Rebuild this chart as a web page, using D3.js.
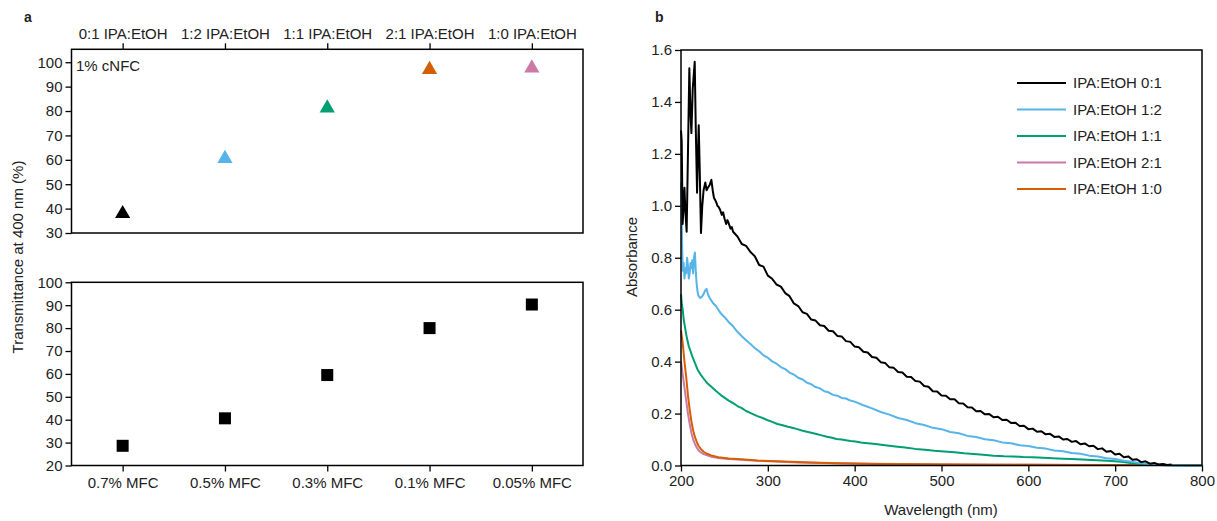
<!DOCTYPE html>
<html><head><meta charset="utf-8">
<script src="https://cdn.jsdelivr.net/npm/d3@7"></script>
<style>body{margin:0;background:#fff} text{font-family:"Liberation Sans",Arial,sans-serif;fill:#222}</style>
</head><body><svg id="c" width="1217" height="521"></svg>
<script>
// ---------- data ----------
const solventCats = ["0:1 IPA:EtOH","1:2 IPA:EtOH","1:1 IPA:EtOH","2:1 IPA:EtOH","1:0 IPA:EtOH"];
const solventT = [37.9, 60.5, 81.2, 97.0, 97.6];
const solventColors = ["#000000","#56B4E9","#009E73","#D55E00","#CC79A7"];
const mfcCats = ["0.7% MFC","0.5% MFC","0.3% MFC","0.1% MFC","0.05% MFC"];
const mfcT = [28.6, 40.6, 59.5, 80.0, 90.3];
const topTicks = [30,40,50,60,70,80,90,100];
const botTicks = [20,30,40,50,60,70,80,90,100];
const wlTicks = [200,300,400,500,600,700,800];
const absTicks = [0,0.2,0.4,0.6,0.8,1.0,1.2,1.4,1.6];
const seriesNames = ["IPA:EtOH 0:1","IPA:EtOH 1:2","IPA:EtOH 1:1","IPA:EtOH 2:1","IPA:EtOH 1:0"];
const seriesColors = ["#000000","#56B4E9","#009E73","#CC79A7","#D55E00"];

const spec01 = [[200,1.29],[200.8,1.25],[201.9,0.93],[203,1.0],[204,1.07],[205,0.98],[206.5,0.90],[208,1.2],[209.6,1.53],[211,1.35],[212,1.28],[213.5,1.45],[215.8,1.555],[217,1.3],[218.5,1.05],[219.5,1.2],[220.4,1.31],[221.5,1.15],[223,0.895],[224.5,1.0],[226,1.06],[228,1.09],[229.5,1.06],[231,1.07],[233,1.08],[235,1.1],[236.5,1.06],[238,1.03],[239,1.025],[241,1.01],[242,1.0],[243.5,0.995],[245,0.985],[247,0.965],[248.5,0.975],[250,0.952],[252,0.93],[253.5,0.945],[255,0.932],[257,0.912],[258.5,0.918],[260,0.90],
[265,0.882],[270,0.853],[275,0.846],[280,0.822],[285,0.806],[290,0.772],[295,0.766],[300,0.731],[305,0.719],[310,0.697],[315,0.689],[320,0.664],[325,0.652],[330,0.624],[335,0.614],[340,0.590],[345,0.584],[350,0.562],[355,0.558],[360,0.540],[365,0.537],[370,0.519],[375,0.517],[380,0.499],[385,0.497],[390,0.479],[395,0.476],[400,0.458],[405,0.455],[410,0.438],[415,0.435],[420,0.418],[425,0.415],[430,0.398],[435,0.395],[440,0.378],[445,0.376],[450,0.360],[455,0.358],[460,0.342],[465,0.341],[470,0.325],[475,0.323],[480,0.306],[485,0.303],[490,0.286],[495,0.285],[500,0.270],[505,0.269],[510,0.255],[515,0.255],[520,0.240],[525,0.239],[530,0.224],[535,0.223],[540,0.209],[545,0.210],[550,0.197],[555,0.198],[560,0.186],[565,0.188],[570,0.175],[575,0.176],[580,0.164],[585,0.165],[590,0.152],[595,0.153],[600,0.140],[605,0.142],[610,0.130],[615,0.132],[620,0.120],[625,0.122],[630,0.110],[635,0.112],[640,0.100],[645,0.102],[650,0.091],[655,0.094],[660,0.082],[665,0.085],[670,0.074],[675,0.076],[680,0.063],[685,0.066],[690,0.053],[695,0.056],[700,0.042],[705,0.045],[710,0.032],[715,0.035],[720,0.022],[725,0.024],[730,0.013],[735,0.016],[740,0.007],[745,0.010],[750,0.004],[755,0.006],[760,0.002],[765,0.004]];

const spec12 = [[200,1.09],[200.6,1.0],[201.2,0.86],[202,0.75],[203,0.78],[204,0.72],[205,0.76],[206,0.74],[207,0.80],[208,0.77],[209,0.72],[210,0.74],[211,0.78],[212,0.76],[213,0.79],[214,0.74],[215,0.80],[216,0.82],[217,0.75],[218,0.70],[219,0.67],[220,0.655],[222,0.645],[224,0.65],[226,0.66],[228,0.675],[229.5,0.68],[231,0.66],[233,0.645],[235,0.635],[237,0.625],[240,0.615],[243,0.60],[246,0.585],
[250,0.572],[255,0.552],[260,0.536],[265,0.515],[270,0.498],[275,0.482],[280,0.468],[285,0.452],[290,0.440],[295,0.424],[300,0.415],[305,0.401],[310,0.392],[315,0.379],[320,0.371],[325,0.358],[330,0.350],[335,0.338],[340,0.331],[345,0.319],[350,0.313],[355,0.302],[360,0.297],[365,0.286],[370,0.282],[375,0.272],[380,0.269],[385,0.260],[390,0.258],[395,0.250],[400,0.246],[410,0.232],[420,0.220],[430,0.206],[440,0.196],[450,0.183],[460,0.175],[470,0.163],[480,0.156],[490,0.145],[500,0.140],[510,0.129],[520,0.124],[530,0.114],[540,0.110],[550,0.101],[560,0.097],[570,0.089],[580,0.086],[590,0.078],[600,0.075],[610,0.068],[620,0.065],[630,0.058],[640,0.055],[650,0.048],[660,0.045],[670,0.038],[680,0.035],[690,0.028],[700,0.025],[710,0.018],[720,0.014],[730,0.009],[740,0.005],[750,0.003],[760,0.001],[780,0.0],[800,0.0]];

const spec11 = [[200,0.66],[201,0.62],[202,0.60],[203,0.565],[204.5,0.535],[206,0.505],[207.5,0.48],[209,0.459],[211,0.44],[213,0.42],[216,0.395],[219,0.37],[222.6,0.35],[226,0.335],[230,0.318],[234,0.306],[240,0.288],[247.5,0.267],[255,0.25],[260,0.240],[265,0.229],[270,0.221],[275,0.21],[281,0.201],[288,0.19],[294,0.183],[300,0.174],[305,0.168],[311,0.16],[316,0.156],[322,0.15],[328,0.145],[334,0.14],[340,0.134],[345,0.13],[350,0.126],[356,0.121],[362,0.116],[368,0.111],[374,0.107],[379,0.102],[385,0.100],[390,0.097],[395,0.094],[401,0.092],[407,0.089],[412,0.087],[418,0.085],[424,0.083],[435,0.078],[447,0.073],[458,0.069],[470,0.064],[481,0.061],[492,0.057],[503,0.054],[515,0.051],[526,0.047],[537,0.044],[548,0.041],[560,0.038],[572,0.036],[583,0.035],[594,0.033],[605,0.032],[617,0.030],[628,0.028],[640,0.026],[650,0.025],[662,0.023],[673,0.021],[685,0.019],[696,0.017],[707,0.014],[718,0.010],[730,0.007],[741,0.004],[750,0.002],[760,0.001],[780,0.0],[800,0.0]];

const spec21 = [[200,0.40],[202,0.35],[204,0.30],[206,0.25],[208,0.20],[210,0.16],[212,0.125],[214,0.10],[216,0.083],[218,0.07],[220,0.06],[223,0.05],[226,0.044],[230,0.039],[235,0.034],[243,0.029],[255,0.025],[265,0.023],[288,0.018],[310,0.015],[334,0.012],[360,0.010],[400,0.008],[450,0.006],[500,0.004],[600,0.003],[700,0.002],[800,0.002]];

const spec10 = [[200,0.52],[202,0.47],[204,0.40],[206,0.34],[208,0.27],[210,0.215],[212,0.17],[214,0.135],[216,0.11],[218,0.092],[220,0.077],[223,0.063],[226,0.053],[230,0.045],[235,0.039],[243,0.032],[255,0.027],[265,0.025],[288,0.019],[310,0.016],[334,0.013],[360,0.011],[380,0.009],[424,0.006],[470,0.005],[515,0.004],[560,0.003],[605,0.003],[650,0.002],[700,0.002],[750,0.002],[800,0.002]];

const spectra = [spec01, spec12, spec11, spec21, spec10];

// ---------- drawing ----------
const svg = d3.select("#c");
const FS = 15;

// Panel a
const ax = d3.scalePoint().domain(d3.range(5)).range([71.5, 583]).padding(0.5);
const yTop = d3.scaleLinear().domain([30, 105.3]).range([233, 49.3]);
const yBot = d3.scaleLinear().domain([20, 100]).range([465.5, 282.3]);

function styleAxis(g){
  g.select(".domain").remove();
  g.selectAll(".tick line").attr("stroke","#000").attr("stroke-width",1.3);
  g.selectAll(".tick text").style("font-size",FS+"px").style("font-family",'"Liberation Sans",Arial,sans-serif').attr("fill","#222");
}

// top panel
svg.append("g").attr("transform","translate(71.5,0)")
  .call(d3.axisLeft(yTop).tickValues(topTicks).tickSize(6).tickPadding(3)).call(styleAxis);
svg.append("g").attr("transform","translate(0,49.3)")
  .call(d3.axisTop(ax).tickFormat(i=>solventCats[i]).tickSize(6).tickPadding(4)).call(styleAxis);
svg.append("rect").attr("x",71.5).attr("y",49.3).attr("width",583-71.5).attr("height",233-49.3)
  .attr("fill","none").attr("stroke","#000").attr("stroke-width",1.5);
svg.append("text").attr("x",76).attr("y",71).style("font-size",FS+"px").text("1% cNFC");
svg.selectAll(".tri").data(solventT).join("path")
  .attr("d", d3.symbol().type(d3.symbolTriangle).size(100))
  .attr("transform",(d,i)=>`translate(${ax(i)},${yTop(d)})`)
  .attr("fill",(d,i)=>solventColors[i]);

// bottom panel
svg.append("g").attr("transform","translate(71.5,0)")
  .call(d3.axisLeft(yBot).tickValues(botTicks).tickSize(6).tickPadding(3)).call(styleAxis);
svg.append("g").attr("transform","translate(0,465.5)")
  .call(d3.axisBottom(ax).tickFormat(i=>mfcCats[i]).tickSize(6).tickPadding(6)).call(styleAxis);
svg.append("rect").attr("x",71.5).attr("y",282.3).attr("width",583-71.5).attr("height",465.5-282.3)
  .attr("fill","none").attr("stroke","#000").attr("stroke-width",1.5);
svg.selectAll(".sq").data(mfcT).join("rect")
  .attr("x",(d,i)=>ax(i)-6).attr("y",d=>yBot(d)-6).attr("width",12).attr("height",12).attr("fill","#000");

svg.append("text").attr("transform","translate(23,257) rotate(-90)").attr("text-anchor","middle")
  .style("font-size",FS+"px").text("Transmittance at 400 nm (%)");
svg.append("text").attr("x",24).attr("y",22).style("font-size","14px").style("font-weight","bold").text("a");

// Panel b
const bx = d3.scaleLinear().domain([200,800]).range([681,1202]);
const by = d3.scaleLinear().domain([0,1.6]).range([465.5,50]);
svg.append("g").attr("transform","translate(681,0)")
  .call(d3.axisLeft(by).tickValues(absTicks).tickFormat(d3.format(".1f")).tickSize(6).tickPadding(3)).call(styleAxis);
svg.append("g").attr("transform","translate(0,465.5)")
  .call(d3.axisBottom(bx).tickValues(wlTicks).tickSize(6).tickPadding(4)).call(styleAxis);

const line = d3.line().x(d=>bx(d[0])).y(d=>by(d[1]));
const order = [3,4,2,1,0];
order.forEach(i=>{
  svg.append("path").datum(spectra[i]).attr("d",line).attr("fill","none")
    .attr("stroke",seriesColors[i]).attr("stroke-width",2).attr("stroke-linejoin","round");
});
svg.append("rect").attr("x",681).attr("y",50).attr("width",1202-681).attr("height",465.5-50)
  .attr("fill","none").attr("stroke","#000").attr("stroke-width",1.5);

// legend
seriesNames.forEach((n,i)=>{
  const y = 83 + i*26.5;
  svg.append("line").attr("x1",1017).attr("x2",1066).attr("y1",y).attr("y2",y)
    .attr("stroke",seriesColors[i]).attr("stroke-width",2);
  svg.append("text").attr("x",1073).attr("y",y+5).style("font-size",FS+"px").text(n);
});

svg.append("text").attr("transform","translate(637,257) rotate(-90)").attr("text-anchor","middle")
  .style("font-size",FS+"px").text("Absorbance");
svg.append("text").attr("x",941).attr("y",515).attr("text-anchor","middle")
  .style("font-size",FS+"px").text("Wavelength (nm)");
svg.append("text").attr("x",655).attr("y",22).style("font-size","14px").style("font-weight","bold").text("b");
</script></body></html>
